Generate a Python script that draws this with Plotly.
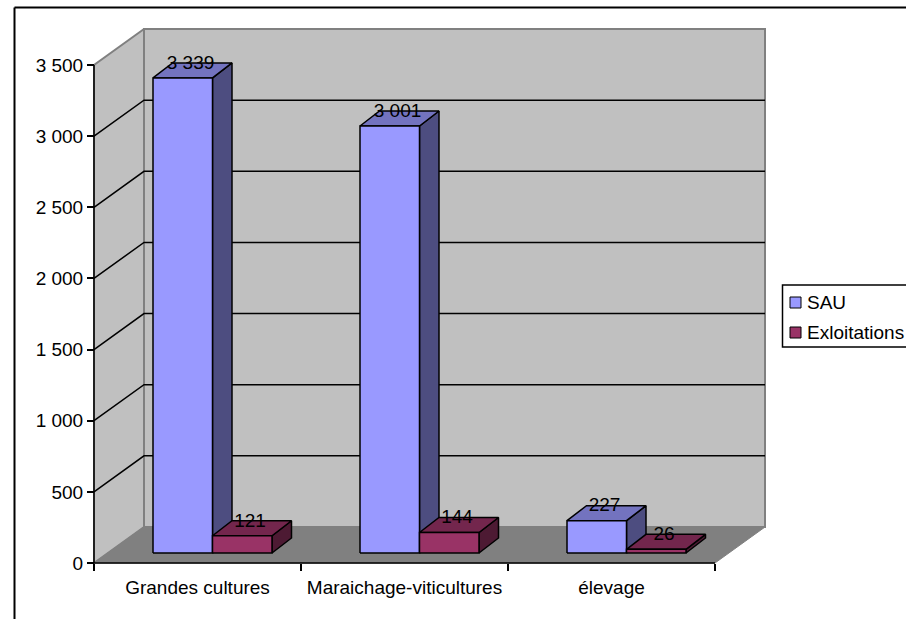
import plotly.graph_objects as go

categories = ["Grandes cultures", "Maraichage-viticultures", "élevage"]
sau = [3339, 3001, 227]
exploitations = [121, 144, 26]
sau_labels = ["3 339", "3 001", "227"]
exploitations_labels = ["121", "144", "26"]
y_ticks = [0, 500, 1000, 1500, 2000, 2500, 3000, 3500]
y_tick_labels = ["0", "500", "1 000", "1 500", "2 000", "2 500", "3 000", "3 500"]
series_names = ["SAU", "Exloitations"]

W, H = 906, 619
X0_PX, X_UNIT = 94, 207
Y0_PX, Y_UNIT = 563, 498 / 3500
FONT = "Liberation Sans"
FS = 19

def dx(p): return p / X_UNIT
def dy(p): return p / Y_UNIT

WALL_DX, WALL_DY = dx(50), dy(36)
BAR_START, BAR_W = dx(59), dx(59.5)
BAR_DX, BAR_DY = dx(19.5), dy(15)
BAR_BASE = dy(10)
NCAT = len(categories)
YMAX = y_ticks[-1]

fig = go.Figure()

def poly(xs, ys, fill, line="black", lw=1.5):
    fig.add_trace(go.Scatter(x=xs + xs[:1], y=ys + ys[:1], mode="lines", fill="toself",
                             fillcolor=fill, line=dict(color=line, width=lw),
                             hoverinfo="skip", showlegend=False))

def seg(xs, ys, color, lw):
    fig.add_trace(go.Scatter(x=xs, y=ys, mode="lines", line=dict(color=color, width=lw),
                             hoverinfo="skip", showlegend=False))

# walls and floor
poly([0, WALL_DX, WALL_DX, 0], [0, WALL_DY, YMAX + WALL_DY, YMAX], "#C0C0C0", "#808080", 2)
poly([WALL_DX, NCAT + WALL_DX, NCAT + WALL_DX, WALL_DX],
     [WALL_DY, WALL_DY, YMAX + WALL_DY, YMAX + WALL_DY], "#C0C0C0", "#808080", 2)
poly([0, NCAT, NCAT + WALL_DX, WALL_DX], [0, 0, WALL_DY, WALL_DY], "#808080", "#808080", 1)

# gridlines
for v in y_ticks[1:-1]:
    seg([0, WALL_DX, NCAT + WALL_DX], [v, v + WALL_DY, v + WALL_DY], "black", 1.5)

# axis lines
seg([0, 0], [0, YMAX], "black", 1.5)
seg([0, NCAT], [0, 0], "black", 1.5)

def bar(x0, value, front, top, side):
    x1 = x0 + BAR_W
    b = BAR_BASE
    t = BAR_BASE + value
    poly([x1, x1 + BAR_DX, x1 + BAR_DX, x1], [b, b + BAR_DY, t + BAR_DY, t], side)
    poly([x0, x1, x1 + BAR_DX, x0 + BAR_DX], [t, t, t + BAR_DY, t + BAR_DY], top)
    poly([x0, x1, x1, x0], [b, b, t, t], front)

for i in range(NCAT):
    bar(i + BAR_START, sau[i], "#9999FF", "#7373BF", "#4D4D80")
    bar(i + BAR_START + BAR_W, exploitations[i], "#993366", "#73264D", "#4D1A33")

# data labels
label_shift = BAR_W / 2 + BAR_DX / 2 - dx(2)
label_drop = dy(1)
fig.add_trace(go.Scatter(
    x=[i + BAR_START + label_shift for i in range(NCAT)],
    y=[v + BAR_BASE + BAR_DY - label_drop for v in sau],
    mode="text", text=sau_labels, textposition="middle center",
    textfont=dict(family=FONT, size=FS, color="black"), hoverinfo="skip", showlegend=False))
fig.add_trace(go.Scatter(
    x=[i + BAR_START + BAR_W + label_shift for i in range(NCAT)],
    y=[v + BAR_BASE + BAR_DY - label_drop for v in exploitations],
    mode="text", text=exploitations_labels, textposition="middle center",
    textfont=dict(family=FONT, size=FS, color="black"), hoverinfo="skip", showlegend=False))

# outer chart border (top and left only reach the picture)
shapes = [
    dict(type="line", xref="paper", yref="paper", x0=14.5 / W, x1=1, y0=1 - 7.5 / H, y1=1 - 7.5 / H,
         line=dict(color="black", width=2)),
    dict(type="line", xref="paper", yref="paper", x0=14.5 / W, x1=14.5 / W, y0=0, y1=1 - 7.5 / H,
         line=dict(color="black", width=2)),
    # legend frame
    dict(type="rect", xref="paper", yref="paper", x0=782.5 / W, x1=1.01, y0=1 - 347 / H, y1=1 - 285 / H,
         line=dict(color="black", width=1.5), fillcolor="white"),
    dict(type="rect", xref="paper", yref="paper", x0=790 / W, x1=801 / W, y0=1 - 308 / H, y1=1 - 297 / H,
         line=dict(color="black", width=1), fillcolor="#9999FF"),
    dict(type="rect", xref="paper", yref="paper", x0=790 / W, x1=801 / W, y0=1 - 338 / H, y1=1 - 327 / H,
         line=dict(color="black", width=1), fillcolor="#993366"),
]
annotations = [
    dict(xref="paper", yref="paper", x=806 / W, y=1 - 302 / H, text=series_names[0], showarrow=False,
         xanchor="left", yanchor="middle", borderpad=0, font=dict(family=FONT, size=FS, color="black")),
    dict(xref="paper", yref="paper", x=806 / W, y=1 - 332 / H, text=series_names[1], showarrow=False,
         xanchor="left", yanchor="middle", borderpad=0, font=dict(family=FONT, size=FS, color="black")),
]

fig.update_layout(
    width=W, height=H, margin=dict(l=0, r=0, t=0, b=0),
    paper_bgcolor="white", plot_bgcolor="white", showlegend=False,
    shapes=shapes, annotations=annotations,
    xaxis=dict(range=[-X0_PX / X_UNIT, (W - X0_PX) / X_UNIT], domain=[0, 1], anchor="free",
               position=(H - Y0_PX) / H, showgrid=False, zeroline=False, showline=False,
               tickmode="array", tickvals=[i + 0.5 for i in range(NCAT)], ticktext=categories,
               ticks="", ticklabelstandoff=11,
               tickfont=dict(family=FONT, size=FS, color="black"),
               minor=dict(tickmode="array", tickvals=list(range(NCAT + 1)), ticks="outside",
                          ticklen=7, tickwidth=1.5, tickcolor="black", showgrid=False)),
    yaxis=dict(range=[-(H - Y0_PX) / Y_UNIT, Y0_PX / Y_UNIT], domain=[0, 1], anchor="free",
               position=X0_PX / W, showgrid=False, zeroline=False, showline=False,
               tickmode="array", tickvals=y_ticks, ticktext=y_tick_labels,
               ticks="outside", ticklen=7, tickwidth=1.5, tickcolor="black",
               tickfont=dict(family=FONT, size=FS, color="black")),
)

fig.write_html("out.html", config=dict(displayModeBar=False),
               post_script="document.body.style.margin='0';document.documentElement.style.overflow='hidden';")
